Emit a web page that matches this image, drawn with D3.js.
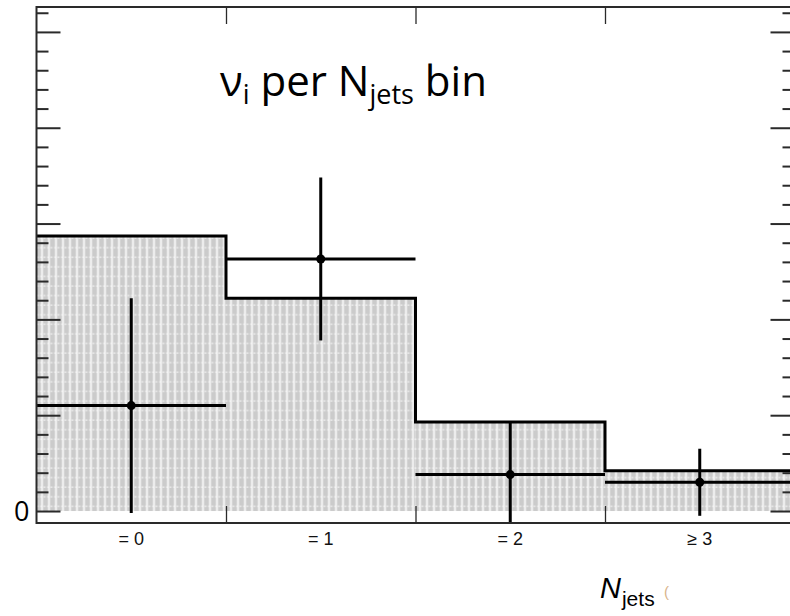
<!DOCTYPE html>
<html>
<head>
<meta charset="utf-8">
<script src="https://cdn.jsdelivr.net/npm/d3@7"></script>
<style>
  html, body { margin: 0; padding: 0; background: #fff; }
  svg { display: block; }
</style>
</head>
<body>
<svg id="chart" width="790" height="616"></svg>
<script>
// Jet-multiplicity bins
const categories = ["0", "1", "2", "3"];
const binLabels = ["= 0", "= 1", "= 2", "\u2265 3"];

// Expected yield per bin (filled histogram)
const expected = [2.87, 2.22, 0.93, 0.42];

// Measured values per bin with symmetric uncertainties
const measured = [1.10, 2.63, 0.38, 0.30];
const measuredErr = [1.12, 0.85, 0.55, 0.35];

// Axis ticks
const majorTicks = [0, 1, 2, 3, 4, 5];
const minorTicks = d3.range(0, 5.21, 0.2).map(v => +v.toFixed(1)).filter(v => !majorTicks.includes(v));
const yTickLabels = [0];

const svg = d3.select("#chart");

const frame = { left: 36.5, right: 794.5, top: 7, bottom: 523 };

const x = d3.scaleBand()
  .domain(categories)
  .range([frame.left, frame.right])
  .paddingInner(0).paddingOuter(0);

const y = d3.scaleLinear()
  .domain([-0.125, 5.26])
  .range([frame.bottom, frame.top]);

// Fill pattern for the histogram
const defs = svg.append("defs");
const pw = 7, ph = 9.58;
const pat = defs.append("pattern")
  .attr("id", "hatch")
  .attr("patternUnits", "userSpaceOnUse")
  .attr("x", frame.left).attr("y", y(0))
  .attr("width", pw).attr("height", ph);
pat.append("rect").attr("width", pw).attr("height", ph).attr("fill", "#cbcbcb");
pat.append("line")
  .attr("x1", 0).attr("x2", pw).attr("y1", 4.8).attr("y2", 4.8)
  .attr("stroke", "#efefef").attr("stroke-width", 1.2)
  .attr("stroke-dasharray", "2,1.5");
pat.append("line")
  .attr("x1", 5.5).attr("x2", 5.5).attr("y1", 0).attr("y2", ph)
  .attr("stroke", "#fafafa").attr("stroke-width", 1.8);

const clip = defs.append("clipPath").attr("id", "plotclip");
clip.append("rect")
  .attr("x", frame.left).attr("y", frame.top)
  .attr("width", frame.right - frame.left).attr("height", frame.bottom - frame.top);

const plot = svg.append("g").attr("clip-path", "url(#plotclip)");

// Histogram fill
plot.selectAll("rect.bin")
  .data(categories)
  .join("rect")
  .attr("class", "bin")
  .attr("x", d => x(d))
  .attr("width", x.bandwidth())
  .attr("y", (d, i) => y(expected[i]))
  .attr("height", (d, i) => y(0) - y(expected[i]))
  .attr("fill", "url(#hatch)");

// Histogram step outline
const stepPts = [];
categories.forEach((c, i) => {
  stepPts.push([x(c), y(expected[i])]);
  stepPts.push([x(c) + x.bandwidth(), y(expected[i])]);
});
plot.append("path")
  .attr("d", d3.line()(stepPts))
  .attr("fill", "none")
  .attr("stroke", "#000")
  .attr("stroke-width", 3);

// Measured points: horizontal bin-width bars, vertical error bars, markers
const pts = plot.selectAll("g.pt")
  .data(categories)
  .join("g")
  .attr("class", "pt");
pts.append("line")
  .attr("x1", d => x(d)).attr("x2", d => x(d) + x.bandwidth())
  .attr("y1", (d, i) => y(measured[i])).attr("y2", (d, i) => y(measured[i]))
  .attr("stroke", "#000").attr("stroke-width", 3);
pts.append("line")
  .attr("x1", d => x(d) + x.bandwidth() / 2).attr("x2", d => x(d) + x.bandwidth() / 2)
  .attr("y1", (d, i) => y(measured[i] + measuredErr[i]))
  .attr("y2", (d, i) => y(measured[i] - measuredErr[i]))
  .attr("stroke", "#000").attr("stroke-width", 3);
pts.append("circle")
  .attr("cx", d => x(d) + x.bandwidth() / 2)
  .attr("cy", (d, i) => y(measured[i]))
  .attr("r", 4.5)
  .attr("fill", "#000");

// Frame
const axisColor = "#2a2a2a";
svg.append("rect")
  .attr("x", frame.left).attr("y", frame.top)
  .attr("width", frame.right - frame.left).attr("height", frame.bottom - frame.top)
  .attr("fill", "none").attr("stroke", axisColor).attr("stroke-width", 2);

function styleAxis(g) {
  g.select(".domain").remove();
  g.selectAll(".tick line").attr("stroke", axisColor).attr("stroke-width", 2);
}

// Left axis: inward ticks, only the zero labelled
svg.append("g")
  .attr("transform", `translate(${frame.left},0)`)
  .call(d3.axisLeft(y).tickValues(minorTicks).tickSize(-12).tickFormat(""))
  .call(styleAxis);
svg.append("g")
  .attr("transform", `translate(${frame.left},0)`)
  .call(d3.axisLeft(y).tickValues(majorTicks).tickSize(-24).tickPadding(7)
    .tickFormat(d => yTickLabels.includes(d) ? d : ""))
  .call(styleAxis)
  .call(g => g.selectAll("text")
    .attr("font-family", "'Open Sans', sans-serif")
    .attr("font-size", 27)
    .attr("fill", "#000")
    .attr("dy", "0.36em"));

// Right axis: inward ticks
svg.append("g")
  .attr("transform", `translate(${frame.right},0)`)
  .call(d3.axisRight(y).tickValues(minorTicks).tickSize(-12).tickFormat(""))
  .call(styleAxis);
svg.append("g")
  .attr("transform", `translate(${frame.right},0)`)
  .call(d3.axisRight(y).tickValues(majorTicks).tickSize(-24).tickFormat(""))
  .call(styleAxis);

// Bin-edge ticks on top and bottom
const edges = categories.slice(1).map(c => x(c));
const xEdge = d3.scaleIdentity().domain([frame.left, frame.right]);
svg.append("g")
  .attr("transform", `translate(0,${frame.bottom})`)
  .call(d3.axisBottom(xEdge).tickValues(edges).tickSize(-17).tickFormat(""))
  .call(styleAxis)
  .call(g => g.selectAll(".tick line").attr("stroke-width", 1.3));
svg.append("g")
  .attr("transform", `translate(0,${frame.top})`)
  .call(d3.axisTop(xEdge).tickValues(edges).tickSize(-17).tickFormat(""))
  .call(styleAxis)
  .call(g => g.selectAll(".tick line").attr("stroke-width", 1.3));

// Bin labels
svg.append("g")
  .attr("transform", `translate(0,${frame.bottom})`)
  .call(d3.axisBottom(x).tickSize(0).tickPadding(0).tickFormat((d, i) => binLabels[i]))
  .call(g => g.select(".domain").remove())
  .call(g => g.selectAll("text")
    .attr("y", 22)
    .attr("dy", 0)
    .attr("font-family", "'Liberation Sans', Arial, sans-serif")
    .attr("font-size", 18)
    .attr("fill", "#111"));

// Axis title
const xt = svg.append("text")
  .attr("x", 600).attr("y", 598)
  .attr("font-family", "'Liberation Sans', Arial, sans-serif")
  .attr("fill", "#000");
xt.append("tspan").attr("font-size", 29).attr("font-style", "italic").text("N");
xt.append("tspan").attr("font-size", 21).attr("dy", 8).attr("dx", 1).text("jets");
svg.append("text")
  .attr("x", 664).attr("y", 597)
  .attr("font-family", "'Liberation Sans', Arial, sans-serif")
  .attr("font-size", 15)
  .attr("fill", "#d9b48a")
  .text("(");

// Title
const title = svg.append("text")
  .attr("x", 220).attr("y", 96)
  .attr("font-family", "'Open Sans', sans-serif")
  .attr("font-size", 42)
  .attr("fill", "#000");
title.append("tspan").text("\u03bd");
title.append("tspan").attr("font-size", 27).attr("dy", 8).text("i");
title.append("tspan").attr("dy", -8).text(" per N");
title.append("tspan").attr("font-size", 27).attr("dy", 8).text("jets");
title.append("tspan").attr("dy", -8).text(" bin");
</script>
</body>
</html>
